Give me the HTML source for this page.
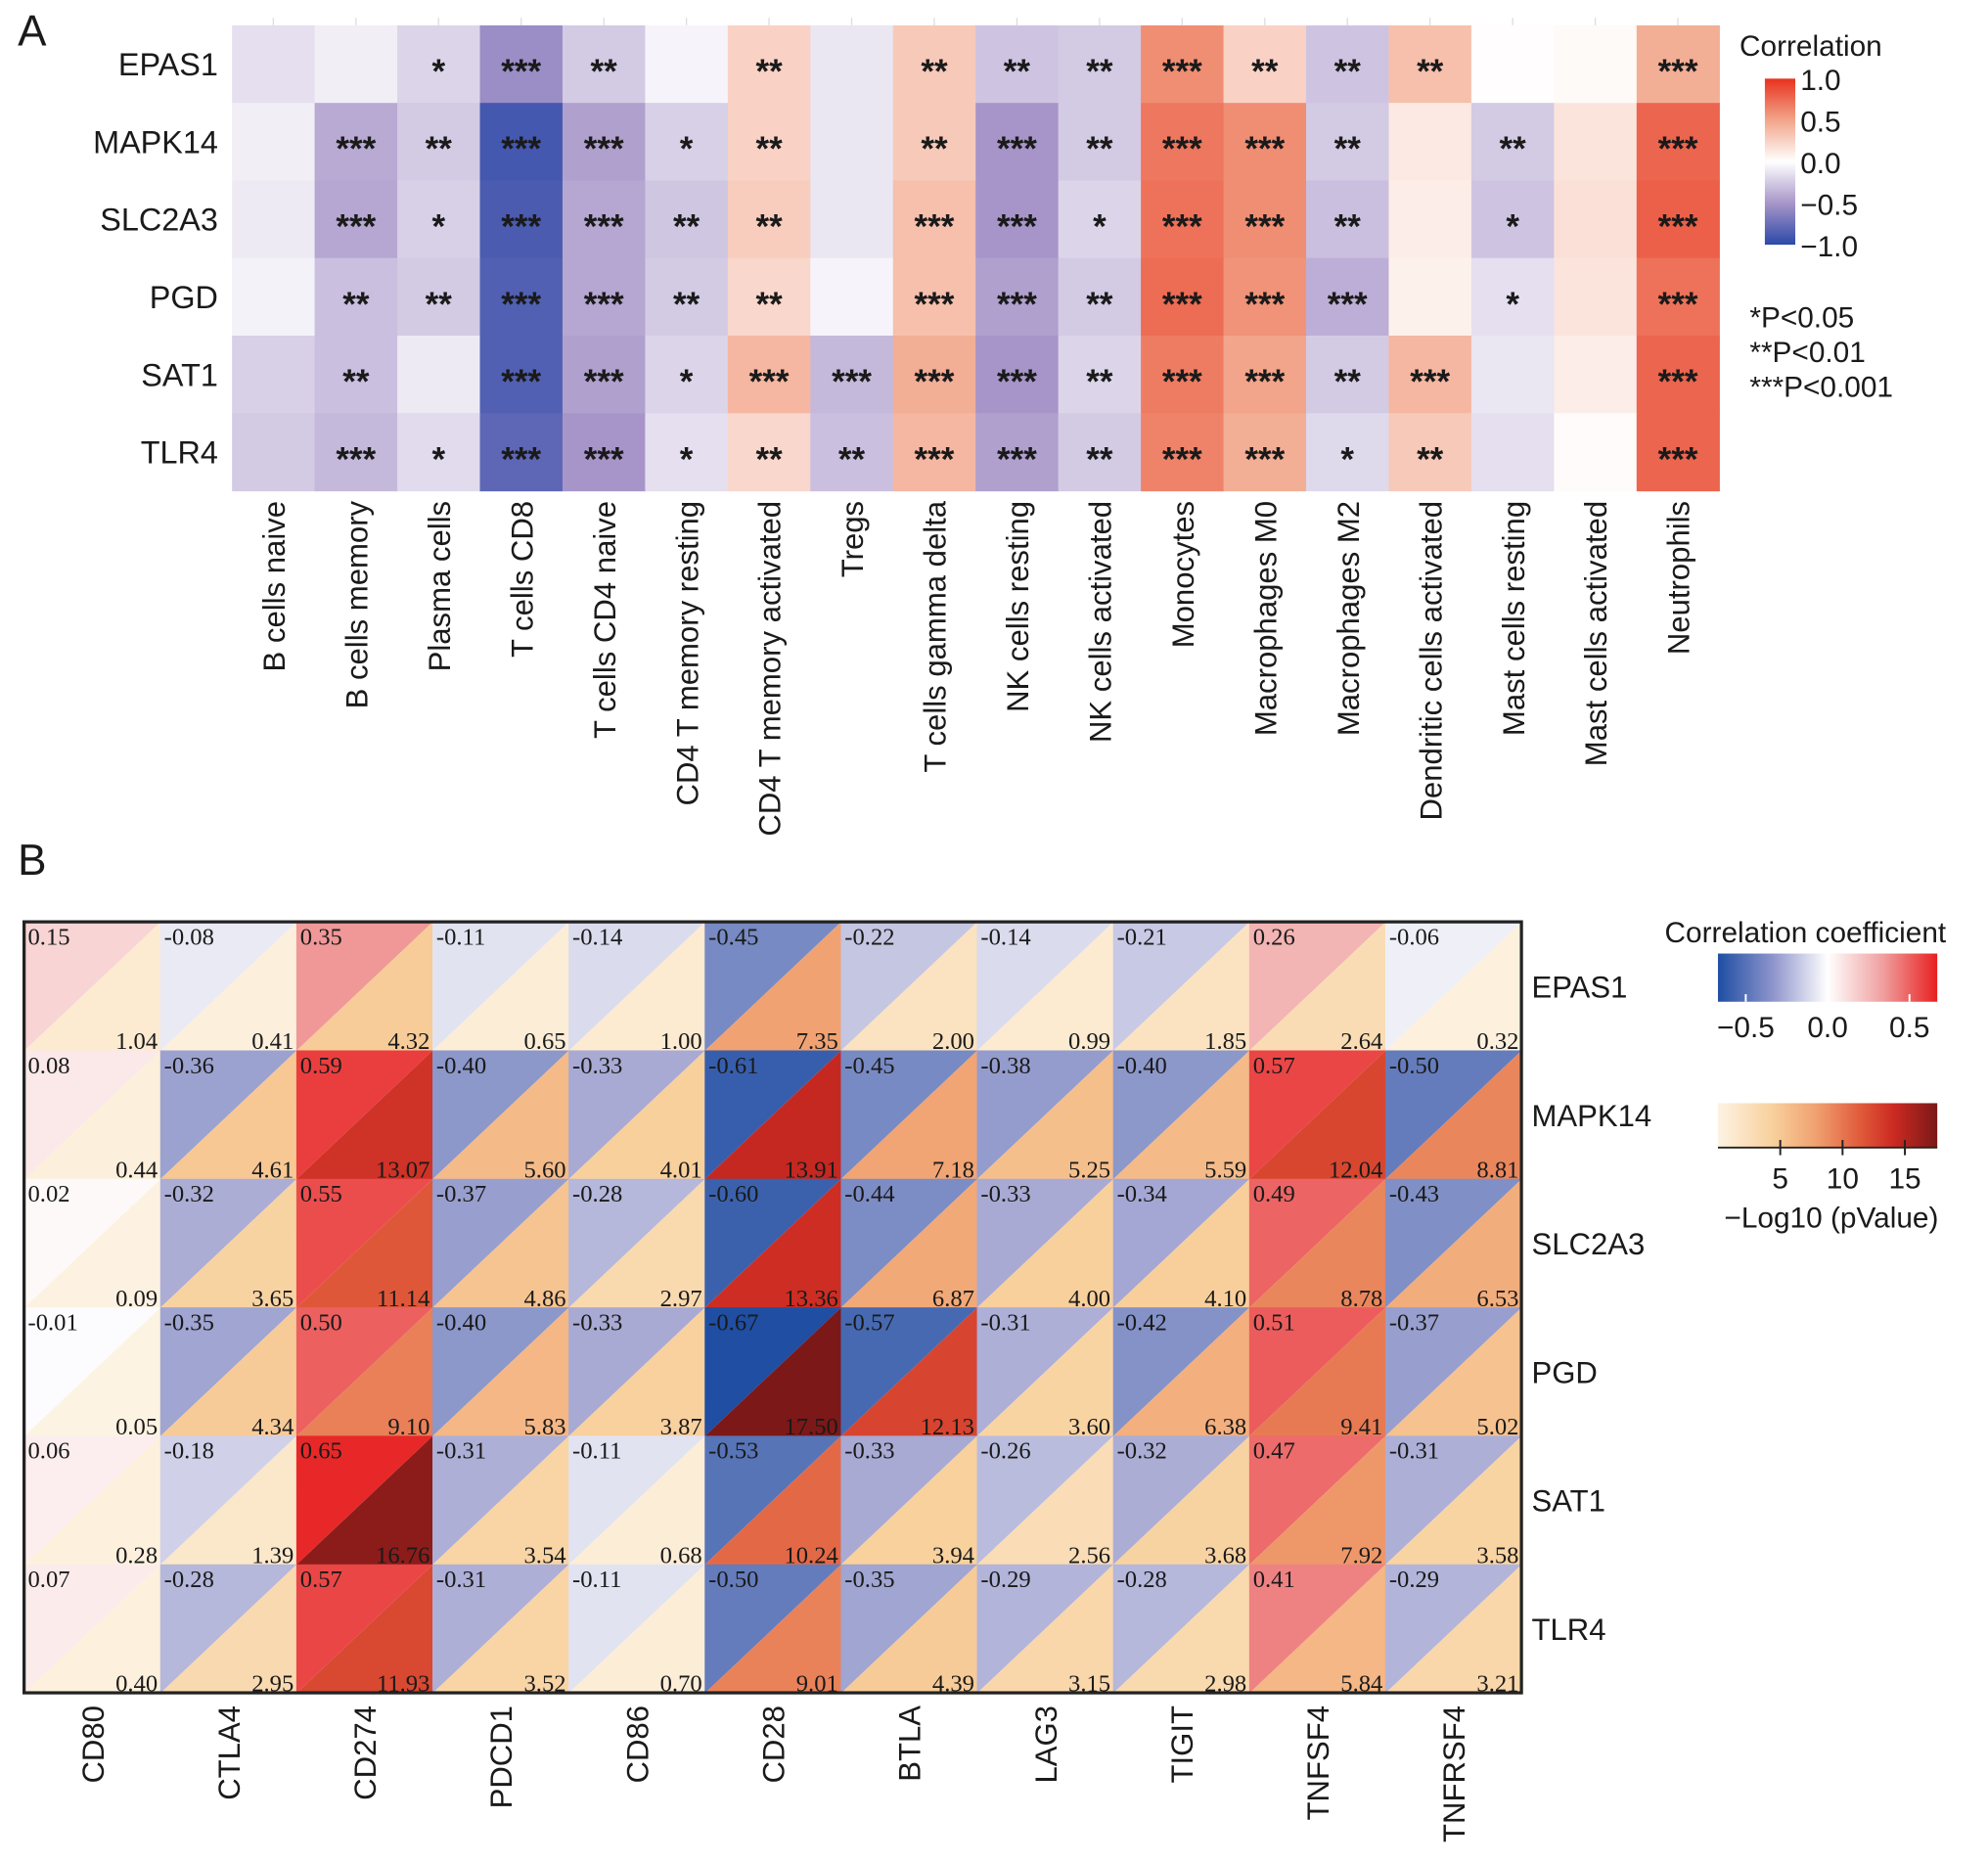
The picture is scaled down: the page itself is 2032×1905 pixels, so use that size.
<!DOCTYPE html>
<html><head><meta charset="utf-8"><style>
html,body{margin:0;padding:0;background:#fff;}
svg{display:block;}
text{font-family:"Liberation Sans",Arial,sans-serif;fill:#1a1a1a;}
.serif{font-family:"Liberation Serif","Times New Roman",serif;}
</style></head><body>
<svg id="fig" width="2032" height="1905" viewBox="0 0 1568 1470" xmlns="http://www.w3.org/2000/svg">
<defs>
<linearGradient id="gA" x1="0" y1="1" x2="0" y2="0">
<stop offset="0" stop-color="#2c49a8"/><stop offset="0.25" stop-color="#a795c9"/><stop offset="0.5" stop-color="#ffffff"/><stop offset="0.75" stop-color="#f2a58a"/><stop offset="1" stop-color="#e8321e"/>
</linearGradient>
<linearGradient id="gB1" x1="0" y1="0" x2="1" y2="0">
<stop offset="0" stop-color="#1f4ea3"/><stop offset="0.25" stop-color="#8e94cc"/><stop offset="0.5" stop-color="#ffffff"/><stop offset="0.75" stop-color="#f0a0a0"/><stop offset="1" stop-color="#e82020"/>
</linearGradient>
<linearGradient id="gB2" x1="0" y1="0" x2="1" y2="0">
<stop offset="0" stop-color="#fdf3e3"/><stop offset="0.25" stop-color="#f8d09c"/><stop offset="0.45" stop-color="#f0a070"/><stop offset="0.65" stop-color="#e05a3a"/><stop offset="0.8" stop-color="#cc2a22"/><stop offset="1" stop-color="#7a1818"/>
</linearGradient>
</defs>
<g id="panelA"></g>
<g id="panelB"></g>
</svg>
<script>
const genes = ["EPAS1","MAPK14","SLC2A3","PGD","SAT1","TLR4"];
const cellTypes = ["B cells naive","B cells memory","Plasma cells","T cells CD8","T cells CD4 naive","CD4 T memory resting","CD4 T memory activated","Tregs","T cells gamma delta","NK cells resting","NK cells activated","Monocytes","Macrophages M0","Macrophages M2","Dendritic cells activated","Mast cells resting","Mast cells activated","Neutrophils"];
const corrA_EPAS1 = [-0.15,-0.08,-0.2,-0.55,-0.25,-0.05,0.25,-0.12,0.3,-0.28,-0.25,0.6,0.25,-0.28,0.35,0.01,0.03,0.45];
const corrA_MAPK14 = [-0.08,-0.4,-0.25,-0.9,-0.45,-0.22,0.25,-0.12,0.3,-0.5,-0.25,0.7,0.6,-0.25,0.12,-0.25,0.15,0.78];
const corrA_SLC2A3 = [-0.1,-0.42,-0.22,-0.88,-0.42,-0.27,0.28,-0.12,0.35,-0.5,-0.2,0.72,0.6,-0.3,0.1,-0.28,0.17,0.8];
const corrA_PGD = [-0.06,-0.3,-0.25,-0.85,-0.42,-0.25,0.22,-0.05,0.35,-0.45,-0.25,0.75,0.58,-0.38,0.08,-0.15,0.15,0.72];
const corrA_SAT1 = [-0.22,-0.3,-0.1,-0.85,-0.45,-0.2,0.4,-0.33,0.45,-0.5,-0.2,0.68,0.5,-0.25,0.4,-0.12,0.1,0.78];
const corrA_TLR4 = [-0.25,-0.33,-0.17,-0.8,-0.5,-0.15,0.22,-0.3,0.4,-0.45,-0.25,0.65,0.45,-0.18,0.3,-0.15,0.02,0.78];
const starsA_EPAS1 = ["","","*","***","**","","**","","**","**","**","***","**","**","**","","","***"];
const starsA_MAPK14 = ["","***","**","***","***","*","**","","**","***","**","***","***","**","","**","","***"];
const starsA_SLC2A3 = ["","***","*","***","***","**","**","","***","***","*","***","***","**","","*","","***"];
const starsA_PGD = ["","**","**","***","***","**","**","","***","***","**","***","***","***","","*","","***"];
const starsA_SAT1 = ["","**","","***","***","*","***","***","***","***","**","***","***","**","***","","","***"];
const starsA_TLR4 = ["","***","*","***","***","*","**","**","***","***","**","***","***","*","**","","","***"];
const corrA = [corrA_EPAS1,corrA_MAPK14,corrA_SLC2A3,corrA_PGD,corrA_SAT1,corrA_TLR4];
const starsA = [starsA_EPAS1,starsA_MAPK14,starsA_SLC2A3,starsA_PGD,starsA_SAT1,starsA_TLR4];
const legendTicksA = [1.0,0.5,0.0,-0.5,-1.0];

const checkpoints = ["CD80","CTLA4","CD274","PDCD1","CD86","CD28","BTLA","LAG3","TIGIT","TNFSF4","TNFRSF4"];
const rB_EPAS1 = [0.15,-0.08,0.35,-0.11,-0.14,-0.45,-0.22,-0.14,-0.21,0.26,-0.06];
const rB_MAPK14 = [0.08,-0.36,0.59,-0.40,-0.33,-0.61,-0.45,-0.38,-0.40,0.57,-0.50];
const rB_SLC2A3 = [0.02,-0.32,0.55,-0.37,-0.28,-0.60,-0.44,-0.33,-0.34,0.49,-0.43];
const rB_PGD = [-0.01,-0.35,0.50,-0.40,-0.33,-0.67,-0.57,-0.31,-0.42,0.51,-0.37];
const rB_SAT1 = [0.06,-0.18,0.65,-0.31,-0.11,-0.53,-0.33,-0.26,-0.32,0.47,-0.31];
const rB_TLR4 = [0.07,-0.28,0.57,-0.31,-0.11,-0.50,-0.35,-0.29,-0.28,0.41,-0.29];
const pB_EPAS1 = [1.04,0.41,4.32,0.65,1.00,7.35,2.00,0.99,1.85,2.64,0.32];
const pB_MAPK14 = [0.44,4.61,13.07,5.60,4.01,13.91,7.18,5.25,5.59,12.04,8.81];
const pB_SLC2A3 = [0.09,3.65,11.14,4.86,2.97,13.36,6.87,4.00,4.10,8.78,6.53];
const pB_PGD = [0.05,4.34,9.10,5.83,3.87,17.50,12.13,3.60,6.38,9.41,5.02];
const pB_SAT1 = [0.28,1.39,16.76,3.54,0.68,10.24,3.94,2.56,3.68,7.92,3.58];
const pB_TLR4 = [0.40,2.95,11.93,3.52,0.70,9.01,4.39,3.15,2.98,5.84,3.21];
const rB = [rB_EPAS1,rB_MAPK14,rB_SLC2A3,rB_PGD,rB_SAT1,rB_TLR4];
const pB = [pB_EPAS1,pB_MAPK14,pB_SLC2A3,pB_PGD,pB_SAT1,pB_TLR4];
const rTicksB = [-0.5,0.0,0.5];
const pTicksB = [5,10,15];

const NS="http://www.w3.org/2000/svg";
function mk(tag,attrs,parent,txt){const e=document.createElementNS(NS,tag);for(const k in attrs)e.setAttribute(k,attrs[k]);if(txt!==undefined)e.textContent=txt;parent.appendChild(e);return e;}
function hex(h){return [parseInt(h.slice(1,3),16),parseInt(h.slice(3,5),16),parseInt(h.slice(5,7),16)];}
function ramp(stops,cols,v){v=Math.max(stops[0],Math.min(stops[stops.length-1],v));for(let i=0;i<stops.length-1;i++){if(v<=stops[i+1]){const t=(v-stops[i])/(stops[i+1]-stops[i]);const a=hex(cols[i]),b=hex(cols[i+1]);return "rgb("+a.map((x,j)=>Math.round(x+(b[j]-x)*t)).join(",")+")";}}return cols[cols.length-1];}
const colA=v=>ramp([-1,-0.5,0,0.5,1],["#2c49a8","#a795c9","#ffffff","#f2a58a","#e8321e"],v);
const colR=v=>ramp([-0.67,-0.33,0,0.33,0.67],["#1f4ea3","#a8aad4","#ffffff","#f0a0a0","#e82020"],v);
const colP=v=>ramp([0,4,7.5,11,13.5,17.6],["#fdf3e3","#f8d09c","#f0a070","#e05a3a","#cc2a22","#7a1818"],v);

// ---- Panel A ----
const A=document.getElementById('panelA');
const ax0=183,ax1=1356,ay0=20,ay1=387;
const acw=(ax1-ax0)/cellTypes.length, arh=(ay1-ay0)/genes.length;
const xA=i=>ax0+i*acw, yA=j=>ay0+j*arh;
let t=mk('text',{x:14,y:36,'font-size':34},A,'A');

cellTypes.forEach((c,i)=>{
  const tk=mk('line',{x1:xA(i)+acw/2,x2:xA(i)+acw/2,y1:14,y2:20,stroke:'#ddd','stroke-width':1},A);
  
});
genes.forEach((g,j)=>{
  corrA[j].forEach((v,i)=>{
    const r=mk('rect',{x:xA(i),y:yA(j),width:acw+0.5,height:arh+0.5,fill:colA(v)},A);
    
    if(starsA[j][i]){const s=mk('text',{x:xA(i)+acw/2,y:yA(j)+arh/2+15,'text-anchor':'middle','font-size':27,'font-weight':'bold'},A,starsA[j][i]);
      }
  });
  const l=mk('text',{x:172,y:yA(j)+arh/2+9,'text-anchor':'end','font-size':25},A,g);
  
});
cellTypes.forEach((c,i)=>{
  const cx=xA(i)+acw/2+9;
  const l=mk('text',{x:cx,y:395,transform:`rotate(-90 ${cx} 395)`,'text-anchor':'end','font-size':24},A,c);
  
});
t=mk('text',{x:1372,y:44,'font-size':23},A,'Correlation');

const lb=mk('rect',{x:1392,y:62,width:24,height:131,fill:'url(#gA)'},A);

const lyA=v=>62+131*(1-(v+1)/2);
legendTicksA.forEach(v=>{
  const l=mk('text',{x:1420,y:lyA(v)+9,'font-size':23},A,(v<0?'\u2212':'')+Math.abs(v).toFixed(1));
  
});
["*P<0.05","**P<0.01","***P<0.001"].forEach((s,k)=>{
  const l=mk('text',{x:1380,y:258+k*27.5,'font-size':23},A,s);
  
});

// ---- Panel B ----
const B=document.getElementById('panelB');
const bx0=19,bx1=1200,by0=727,by1=1335;
const bcw=(bx1-bx0)/checkpoints.length, brh=(by1-by0)/genes.length;
const xB=i=>bx0+i*bcw, yB=j=>by0+j*brh;
t=mk('text',{x:14,y:690,'font-size':34},B,'B');

genes.forEach((g,j)=>{
  checkpoints.forEach((c,i)=>{
    const x=xB(i),y=yB(j),w=bcw+0.4,h=brh+0.4;
    const up=mk('polygon',{points:`${x},${y} ${x+w},${y} ${x},${y+h}`,fill:colR(rB[j][i])},B);
    
    const lo=mk('polygon',{points:`${x+w},${y} ${x+w},${y+h} ${x},${y+h}`,fill:colP(pB[j][i])},B);
    
  });
});
genes.forEach((g,j)=>{
  checkpoints.forEach((c,i)=>{
    const x=xB(i),y=yB(j);
    const a=mk('text',{x:x+3,y:y+18,'font-size':19,class:'serif'},B,rB[j][i].toFixed(2));
    
    const b=mk('text',{x:x+bcw-2,y:y+brh-1,'font-size':19,'text-anchor':'end',class:'serif'},B,pB[j][i].toFixed(2));
    
  });
  const l=mk('text',{x:1208,y:yB(j)+brh/2+9,'font-size':24},B,g);
  
});
const fr=mk('rect',{x:bx0,y:by0,width:bx1-bx0,height:by1-by0,fill:'none',stroke:'#222','stroke-width':2.5},B);

checkpoints.forEach((c,i)=>{
  const cx=xB(i)+bcw/2+9;
  const l=mk('text',{x:cx,y:1345,transform:`rotate(-90 ${cx} 1345)`,'text-anchor':'end','font-size':24},B,c);
  
});
t=mk('text',{x:1313,y:743,'font-size':23},B,'Correlation coefficient');

let cb=mk('rect',{x:1355,y:752,width:173,height:38,fill:'url(#gB1)'},B);

const lxR=v=>1355+173*((v+0.67)/1.34);
rTicksB.forEach(v=>{
  const tk=mk('line',{x1:lxR(v),x2:lxR(v),y1:784,y2:790,stroke:'#fff','stroke-width':1.5},B);
  
  const l=mk('text',{x:lxR(v),y:818,'text-anchor':'middle','font-size':23},B,(v<0?'\u2212':'')+Math.abs(v).toFixed(1));
  
});
cb=mk('rect',{x:1355,y:870,width:173,height:35,fill:'url(#gB2)'},B);

const lxP=v=>1355+173*(v/17.6);
const bl=mk('line',{x1:1355,x2:1528,y1:905,y2:905,stroke:'#222','stroke-width':1.5},B);

pTicksB.forEach(v=>{
  const tk=mk('line',{x1:lxP(v),x2:lxP(v),y1:899,y2:911,stroke:'#222','stroke-width':1.5},B);
  
  const l=mk('text',{x:lxP(v),y:937,'text-anchor':'middle','font-size':23},B,String(v));
  
});
t=mk('text',{x:1360,y:968,'font-size':23},B,'\u2212Log10 (pValue)');

</script>
</body></html>
